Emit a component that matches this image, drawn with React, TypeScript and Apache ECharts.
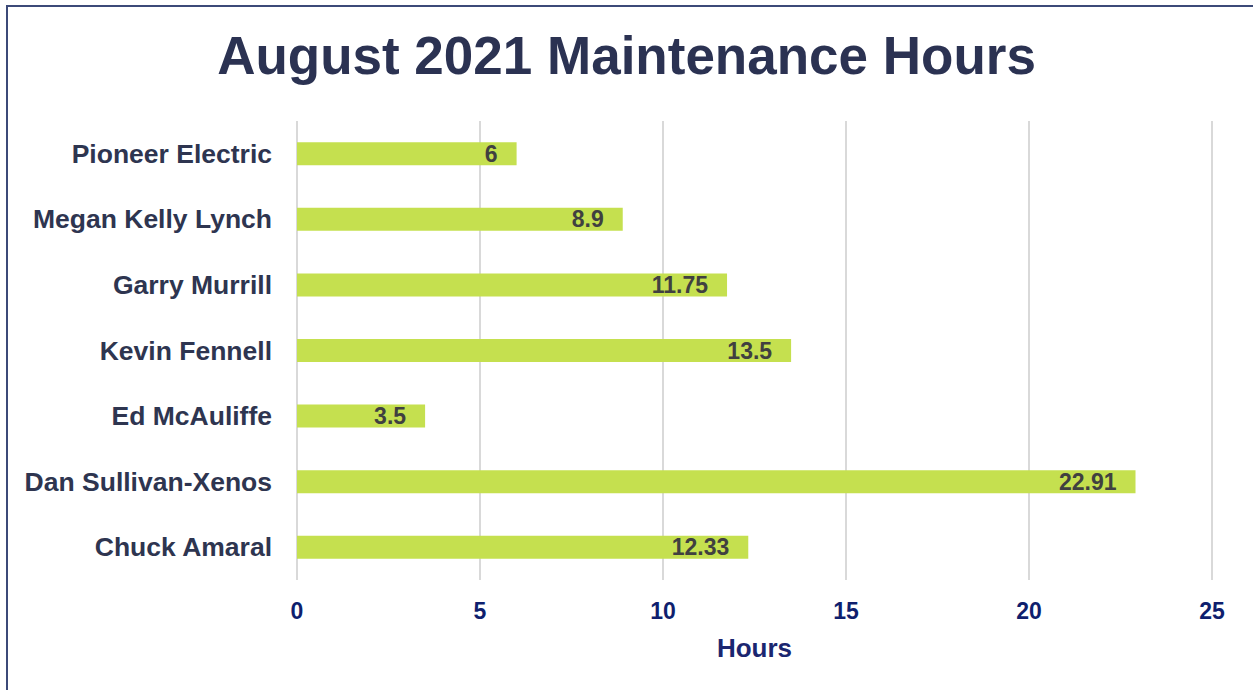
import React, { useEffect, useRef } from "react";
import * as echarts from "echarts";

const categories = [
  "Chuck Amaral",
  "Dan Sullivan-Xenos",
  "Ed McAuliffe",
  "Kevin Fennell",
  "Garry Murrill",
  "Megan Kelly Lynch",
  "Pioneer Electric",
];
const hours = [12.33, 22.91, 3.5, 13.5, 11.75, 8.9, 6];
const xTicks = { min: 0, max: 25, interval: 5 };

const FONT = "'Liberation Sans', Arial, sans-serif";

export default function App() {
  const ref = useRef<HTMLDivElement>(null);
  useEffect(() => {
    if (!ref.current) return;
    const chart = echarts.init(ref.current, null, { renderer: "svg" });
    chart.setOption({
      animation: false,
      backgroundColor: "#ffffff",
      title: {
        text: "August 2021 Maintenance Hours",
        left: "center",
        top: 24,
        textStyle: {
          fontFamily: FONT,
          fontSize: 53,
          fontWeight: "bold",
          color: "#2B3252",
        },
      },
      graphic: [
        {
          type: "rect",
          shape: { x: 7, y: 6, width: 1400, height: 800 },
          style: { fill: "none", stroke: "#3C4A78", lineWidth: 2 },
          silent: true,
        },
      ],
      grid: { left: 297, right: 41, top: 121, bottom: 110, containLabel: false },
      xAxis: {
        type: "value",
        min: xTicks.min,
        max: xTicks.max,
        interval: xTicks.interval,
        name: "Hours",
        nameLocation: "middle",
        nameGap: 55,
        nameTextStyle: {
          fontFamily: FONT,
          fontSize: 26,
          fontWeight: "bold",
          color: "#1B2670",
        },
        axisLine: { show: false },
        axisTick: { show: false },
        axisLabel: {
          margin: 19,
          fontFamily: FONT,
          fontSize: 23,
          fontWeight: "bold",
          color: "#0F1F6E",
        },
        splitLine: { show: true, lineStyle: { color: "#D9D9D9", width: 2 } },
      },
      yAxis: {
        type: "category",
        data: categories,
        axisLine: { show: false },
        axisTick: { show: false },
        axisLabel: {
          margin: 25,
          fontFamily: FONT,
          fontSize: 26.5,
          fontWeight: "bold",
          color: "#2E3550",
        },
      },
      series: [
        {
          type: "bar",
          data: hours,
          barWidth: 23,
          itemStyle: { color: "#C5E04F" },
          label: {
            show: true,
            position: "insideRight",
            distance: 19,
            fontFamily: FONT,
            fontSize: 23,
            fontWeight: "bold",
            color: "#404040",
          },
        },
      ],
    });
    return () => chart.dispose();
  }, []);
  return (
    <div
      ref={ref}
      style={{ position: "fixed", left: 0, top: 0, width: 1253, height: 690 }}
    />
  );
}
